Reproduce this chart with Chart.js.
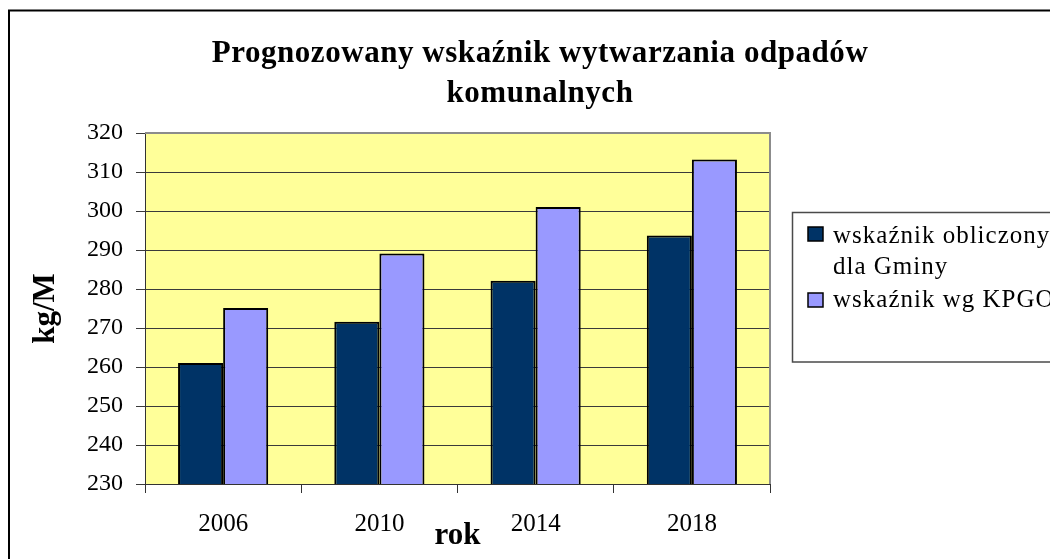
<!DOCTYPE html>
<html>
<head>
<meta charset="utf-8">
<script src="https://cdn.jsdelivr.net/npm/chart.js@4/dist/chart.umd.min.js"></script>
<style>
  html, body { margin: 0; padding: 0; background: #fff; }
  #wrap { width: 1050px; height: 559px; }
</style>
</head>
<body>
<div id="wrap"><canvas id="c" width="1050" height="559"></canvas></div>
<script>
const titleLines = ["Prognozowany wskaźnik wytwarzania odpadów", "komunalnych"];
const categories = ["2006", "2010", "2014", "2018"];
const seriesNames = [["wskaźnik obliczony", "dla Gminy"], ["wskaźnik wg KPGO"]];
const gminaValues = [261.0, 271.6, 282.1, 293.7];
const kpgoValues = [275.1, 289.1, 301.0, 313.2];
const yTitle = "kg/M";
const xTitle = "rok";
const yMin = 230, yMax = 320, yStep = 10;

const FONT = "'Liberation Serif', 'Times New Roman', serif";
const colors = ["#003366", "#9999FF"];

const decorPlugin = {
  id: 'decor',
  beforeDraw(chart) {
    const ctx = chart.ctx;
    const a = chart.chartArea;
    ctx.save();
    ctx.fillStyle = '#fff';
    ctx.fillRect(0, 0, chart.width, chart.height);
    ctx.fillStyle = '#FFFF99';
    ctx.fillRect(a.left, a.top, a.right - a.left, a.bottom - a.top);
    ctx.strokeStyle = '#000';
    ctx.lineWidth = 2;
    ctx.strokeRect(9, 10.5, 1200, 700);
    ctx.restore();
  },
  beforeDatasetsDraw(chart) {
    const ctx = chart.ctx;
    const a = chart.chartArea;
    ctx.save();
    ctx.strokeStyle = '#8c8c8c';
    ctx.lineWidth = 2;
    ctx.beginPath();
    ctx.moveTo(a.left, a.top);
    ctx.lineTo(a.right, a.top);
    ctx.lineTo(a.right, a.bottom);
    ctx.stroke();
    ctx.restore();
  },
  afterDraw(chart) {
    const ctx = chart.ctx;
    ctx.save();
    ctx.fillStyle = '#000';
    ctx.font = "bold 31px " + FONT;
    ctx.letterSpacing = '0.55px';
    ctx.textAlign = 'center';
    ctx.textBaseline = 'alphabetic';
    ctx.fillText(titleLines[0], 540, 62);
    ctx.fillText(titleLines[1], 540, 102);
    ctx.strokeStyle = '#4a4a4a';
    ctx.lineWidth = 1.5;
    ctx.strokeRect(792.5, 212.5, 400, 149.5);
    ctx.font = "25px " + FONT;
    ctx.letterSpacing = '1px';
    ctx.textAlign = 'left';
    const squares = [227, 293];
    const baselines = [[243, 274], [307]];
    chart.data.datasets.forEach((ds, i) => {
      ctx.fillStyle = ds.backgroundColor;
      ctx.fillRect(808, squares[i], 15, 14);
      ctx.strokeStyle = '#000';
      ctx.lineWidth = 1.5;
      ctx.strokeRect(808, squares[i], 15, 14);
      ctx.fillStyle = '#000';
      seriesNames[i].forEach((line, j) => {
        ctx.fillText(line, 833, baselines[i][j]);
      });
    });
    ctx.restore();
  }
};

new Chart(document.getElementById('c'), {
  type: 'bar',
  data: {
    labels: categories,
    datasets: [
      {
        label: seriesNames[0].join(' '),
        data: gminaValues,
        backgroundColor: colors[0],
        borderColor: '#000',
        borderWidth: 2
      },
      {
        label: seriesNames[1].join(' '),
        data: kpgoValues,
        backgroundColor: colors[1],
        borderColor: '#000',
        borderWidth: 2
      }
    ]
  },
  options: {
    responsive: false,
    animation: false,
    events: [],
    categoryPercentage: 0.577,
    barPercentage: 1.0,
    layout: { padding: { top: 133, right: 280, left: 0, bottom: 0 } },
    plugins: {
      legend: { display: false },
      title: { display: false },
      tooltip: { enabled: false }
    },
    scales: {
      x: {
        afterFit: (s) => { s.height = 75; },
        grid: {
          offset: true,
          drawOnChartArea: false,
          drawTicks: true,
          tickLength: 9,
          color: '#333',
          lineWidth: 1
        },
        border: { display: true, color: '#333', width: 1 },
        ticks: {
          color: '#000',
          padding: 16,
          font: { family: FONT, size: 25 }
        },
        title: {
          display: true,
          text: xTitle,
          color: '#000',
          font: { family: FONT, size: 31, weight: 'bold' },
          padding: { top: 0, bottom: 4 }
        }
      },
      y: {
        min: yMin,
        max: yMax,
        afterFit: (s) => { s.width = 145; },
        grid: {
          drawOnChartArea: true,
          drawTicks: true,
          tickLength: 9,
          color: '#3a3a3a',
          lineWidth: 1
        },
        border: { display: true, color: '#333', width: 1 },
        ticks: {
          stepSize: yStep,
          color: '#000',
          padding: 13,
          font: { family: FONT, size: 24 }
        },
        title: {
          display: true,
          text: yTitle,
          color: '#000',
          font: { family: FONT, size: 31, weight: 'bold' },
          padding: { top: 27, bottom: 0 }
        }
      }
    }
  },
  plugins: [decorPlugin]
});
</script>
</body>
</html>
